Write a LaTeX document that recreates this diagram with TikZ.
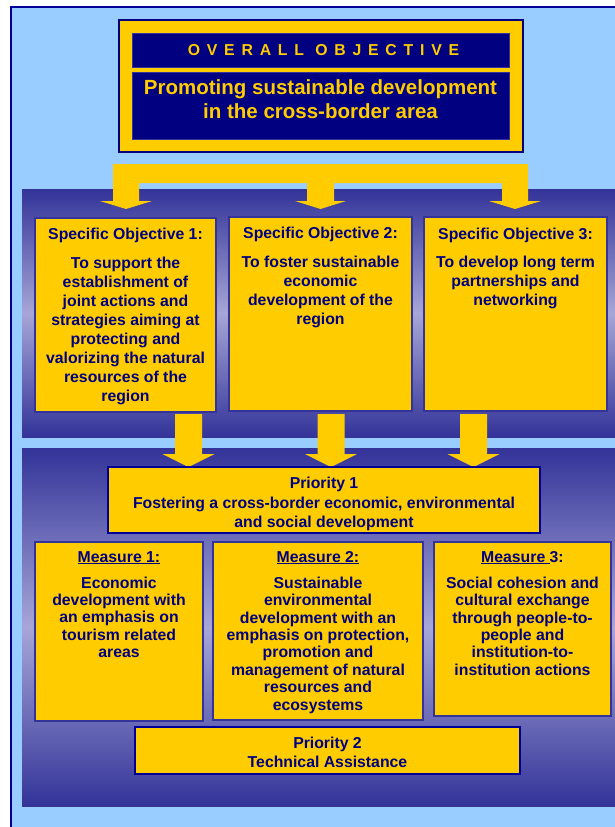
\documentclass[tikz,border=0pt]{standalone}
\usepackage{fontspec}
\setmainfont{Liberation Sans}
\newfontfamily\spacedfont[LetterSpace=43]{Liberation Sans}
\usetikzlibrary{calc}
\definecolor{lblue}{HTML}{99CCFF}
\definecolor{navy}{HTML}{000080}
\definecolor{ayellow}{HTML}{FFCC00}
\definecolor{pdark}{HTML}{333399}
\definecolor{plight}{HTML}{A6A6D8}
\definecolor{bborder}{HTML}{33339A}
\definecolor{pborder}{HTML}{000099}
\definecolor{frameline}{HTML}{000099}
\newcommand{\myul}[1]{\setbox0\hbox{#1}\rlap{\rule[-2pt]{\wd0}{1.3pt}}\box0\relax}
\newcommand{\darrow}[3]{%
  \fill[ayellow] (#1-13.5,#2) -- (#1+13.5,#2) -- (#1+13.5,#3-13) -- (#1+26,#3-13)
    -- (#1,#3) -- (#1-26,#3-13) -- (#1-13.5,#3-13) -- cycle;}
\begin{document}
\begin{tikzpicture}[x=1pt,y=-1pt,
  box/.style={anchor=north west, inner sep=0pt, outer sep=0pt},
  sobox/.style={box, fill=ayellow, draw=bborder, line width=2pt},
  prbox/.style={box, fill=ayellow, draw=pborder, line width=2.5pt},
  navybox/.style={box, fill=navy, draw=bborder, line width=0.8pt},
  txt/.style={anchor=north, inner sep=0pt, align=center, text=navy,
    font=\fontsize{15.8}{19}\selectfont\bfseries},
  mtxt/.style={txt, font=\fontsize{15.8}{17.4}\selectfont\bfseries},
  ptxt/.style={txt, font=\fontsize{15.8}{19.5}\selectfont\bfseries},
  panel/.style={top color=pdark, bottom color=pdark, middle color=plight}
]
\useasboundingbox (0,0) rectangle (615,827);
% background
\fill[white] (0,0) rectangle (615,827);
\fill[lblue] (11,7) rectangle (615,827);
\draw[frameline, line width=2pt] (11,827) -- (11,7) -- (615,7);
% panels
\shade[panel] (22,189) rectangle (615,437);
\shade[panel] (22,448) rectangle (615,806);
% overall objective
\node[box, fill=ayellow, draw=navy, line width=1.5pt, minimum width=404pt, minimum height=132pt] (ov) at (119,20) {};
\node[navybox, minimum width=377pt, minimum height=34pt] (ovtitle) at (132,33) {};
\node[navybox, minimum width=377pt, minimum height=67pt] (ovbody) at (132,72) {};
\node[inner sep=0pt, text=ayellow, font=\fontsize{15.8}{19}\selectfont\bfseries\spacedfont] (ovt) at ($(ovtitle.center)+(3,0)$) {OVERALL OBJECTIVE};
\node[anchor=north, inner sep=0pt, align=center, text=ayellow, font=\fontsize{20.5}{24}\selectfont\bfseries] (ovb) at (320.5,79.4) {Promoting sustainable development\\in the cross-border area};
% first connector
\fill[ayellow] (113,164) -- (528,164) -- (528,201) -- (541,201) -- (515,209) -- (489,201) -- (502,201) -- (502,183)
  -- (334,183) -- (334,201) -- (346,201) -- (320.5,209) -- (295,201) -- (307,201) -- (307,183)
  -- (139,183) -- (139,201) -- (152,201) -- (126,209) -- (100,201) -- (113,201) -- cycle;
% specific objectives
\node[sobox, minimum width=181pt, minimum height=194pt] (so1) at (35,218) {};
\node[sobox, minimum width=183pt, minimum height=194pt] (so2) at (229,217) {};
\node[sobox, minimum width=183pt, minimum height=194pt] (so3) at (424,217) {};
\node[txt] (so1t) at (125.5,228) {Specific Objective 1:\\[9.5pt]To support the\\establishment of\\joint actions and\\strategies aiming at\\protecting and\\valorizing the natural\\resources of the\\region};
\node[txt] (so2t) at (320.5,227) {Specific Objective 2:\\[9.5pt]To foster sustainable\\economic\\development of the\\region};
\node[txt] (so3t) at (515.5,227.5) {Specific Objective 3:\\[9.5pt]To develop long term\\partnerships and\\networking};
% second connectors
\darrow{188.5}{414}{467}
\darrow{331}{414}{467}
\darrow{473.5}{414}{467}
% priority 1
\node[prbox, minimum width=432pt, minimum height=66pt] (p1) at (108,467) {};
\node[ptxt] (p1t) at (p1.north |- 0,477) {Priority 1\\Fostering a cross-border economic, environmental\\and social development};
% measures
\node[sobox, minimum width=168pt, minimum height=179pt] (m1) at (35,542) {};
\node[sobox, minimum width=210pt, minimum height=178pt] (m2) at (213,542) {};
\node[sobox, minimum width=177pt, minimum height=174pt] (m3) at (434,542) {};
\node[mtxt] (m1t) at (m1.north |- 0,551) {\myul{Measure 1:}\\[8.6pt]Economic\\development with\\an emphasis on\\tourism related\\areas};
\node[mtxt] (m2t) at (m2.north |- 0,551) {\myul{Measure 2:}\\[8.6pt]Sustainable\\environmental\\development with an\\emphasis on protection,\\promotion and\\management of natural\\resources and\\ecosystems};
\node[mtxt] (m3t) at (m3.north |- 0,551) {\myul{Measure }3:\\[8.6pt]Social cohesion and\\cultural exchange\\through people-to-\\people and\\institution-to-\\institution actions};
% priority 2
\node[prbox, minimum width=385pt, minimum height=47pt] (p2) at (135,727) {};
\node[ptxt, font=\fontsize{15.8}{19}\selectfont\bfseries] (p2t) at (p2.north |- 0,737) {Priority 2\\Technical Assistance};
\end{tikzpicture}
\end{document}
